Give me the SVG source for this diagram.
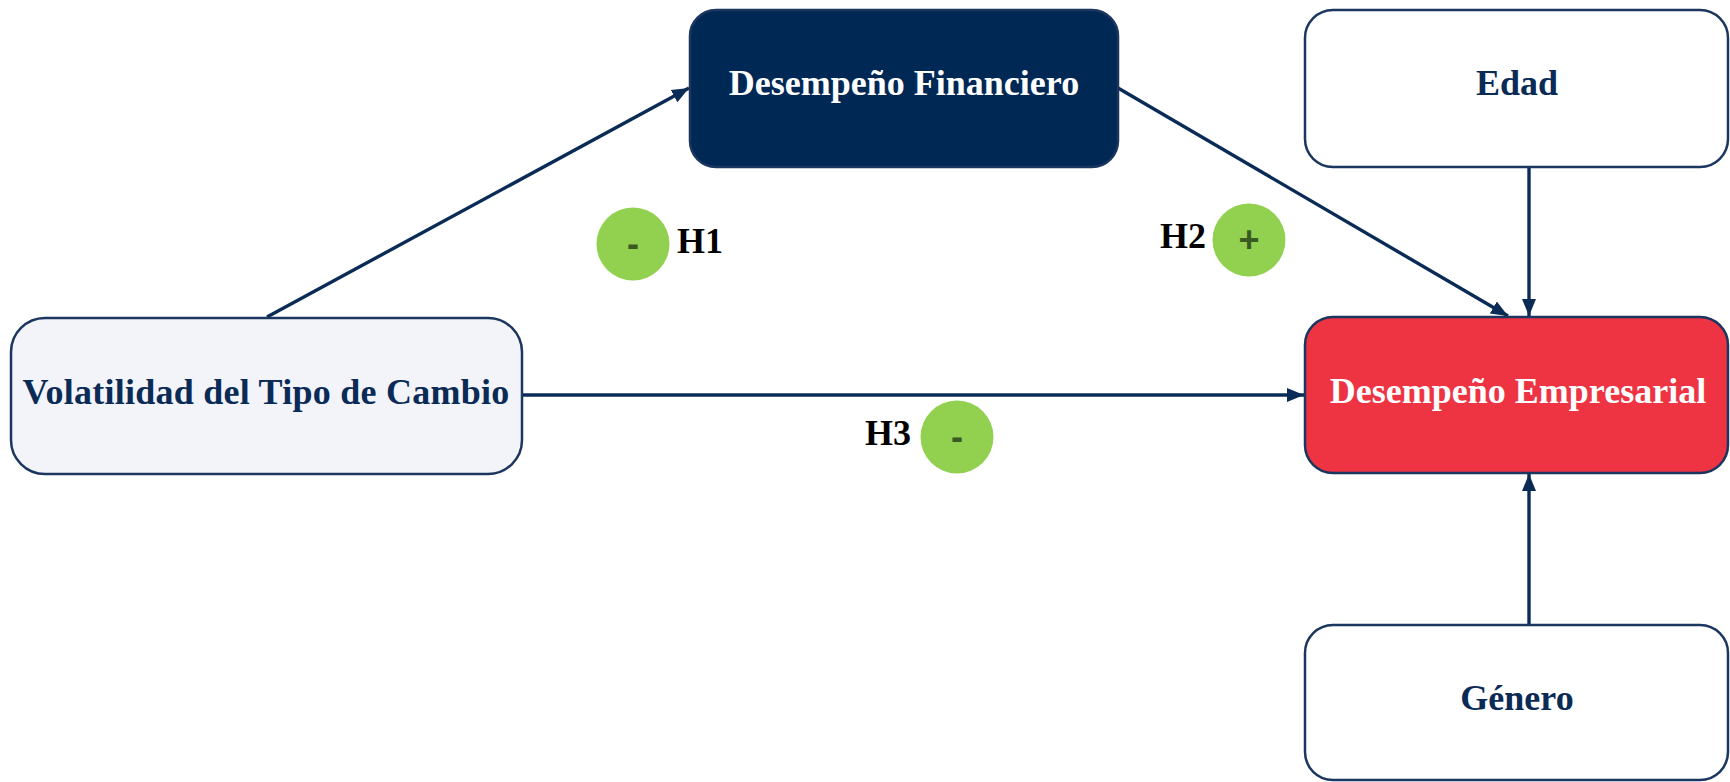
<svg xmlns="http://www.w3.org/2000/svg" width="1730" height="782" viewBox="0 0 1730 782">
<style>
  .box { stroke: #1b365f; stroke-width: 2.5; }
  .lbl { font-family: "Liberation Serif", "Times New Roman", serif; font-weight: bold; font-size: 36px; text-anchor: middle; }
  .conn { stroke: #0b2b57; stroke-width: 3.4; fill: none; marker-end: url(#arr); }
  .badge { fill: #92d050; }
  .sign { font-family: "Liberation Sans", Arial, sans-serif; font-weight: bold; font-size: 36px; fill: #3b5a23; text-anchor: middle; }
  .hyp { font-family: "Liberation Serif", "Times New Roman", serif; font-weight: bold; font-size: 36px; fill: #000; }
</style>
<defs>
  <marker id="arr" markerUnits="userSpaceOnUse" markerWidth="18" markerHeight="18" viewBox="0 0 18 18" refX="17" refY="9" orient="auto">
    <path d="M0,2 L17,9 L0,16 Z" fill="#0b2b57"/>
  </marker>
</defs>
<rect width="1730" height="782" fill="#ffffff"/>
<g id="connectors">
  <line class="conn" x1="267" y1="317" x2="689" y2="88"/>
  <line class="conn" x1="1118" y1="88" x2="1508" y2="316"/>
  <line class="conn" x1="1529" y1="167" x2="1529" y2="316"/>
  <line class="conn" x1="1529" y1="625" x2="1529" y2="474"/>
  <line class="conn" x1="522" y1="395" x2="1304" y2="395"/>
</g>
<g id="node-financiero">
  <rect class="box" x="690" y="10" width="428" height="157" rx="26" fill="#002855"/>
  <text class="lbl" x="904" y="95" fill="#ffffff">Desempeño Financiero</text>
</g>
<g id="node-edad">
  <rect class="box" x="1305" y="10" width="423" height="157" rx="28" fill="#ffffff"/>
  <text class="lbl" x="1517" y="95" fill="#0b2b57">Edad</text>
</g>
<g id="node-volatilidad">
  <rect class="box" x="11" y="318" width="511" height="156" rx="34" fill="#f3f4fa"/>
  <text class="lbl" x="266" y="404" fill="#0b2b57" letter-spacing="0.25">Volatilidad del Tipo de Cambio</text>
</g>
<g id="node-empresarial">
  <rect class="box" x="1305" y="317" width="423" height="156" rx="28" fill="#ee3342"/>
  <text class="lbl" x="1518" y="403" fill="#ffffff">Desempeño Empresarial</text>
</g>
<g id="node-genero">
  <rect class="box" x="1305" y="625" width="423" height="155" rx="28" fill="#ffffff"/>
  <text class="lbl" x="1517" y="710" fill="#0b2b57">Género</text>
</g>
<g id="h1">
  <circle class="badge" cx="633" cy="244" r="36.5"/>
  <text class="sign" x="633" y="256">-</text>
  <text class="hyp" x="677" y="253">H1</text>
</g>
<g id="h2">
  <circle class="badge" cx="1249" cy="240" r="36.5"/>
  <text class="sign" x="1249" y="252">+</text>
  <text class="hyp" x="1160" y="248">H2</text>
</g>
<g id="h3">
  <circle class="badge" cx="957" cy="437" r="36.5"/>
  <text class="sign" x="957" y="449">-</text>
  <text class="hyp" x="865" y="445">H3</text>
</g>
</svg>
